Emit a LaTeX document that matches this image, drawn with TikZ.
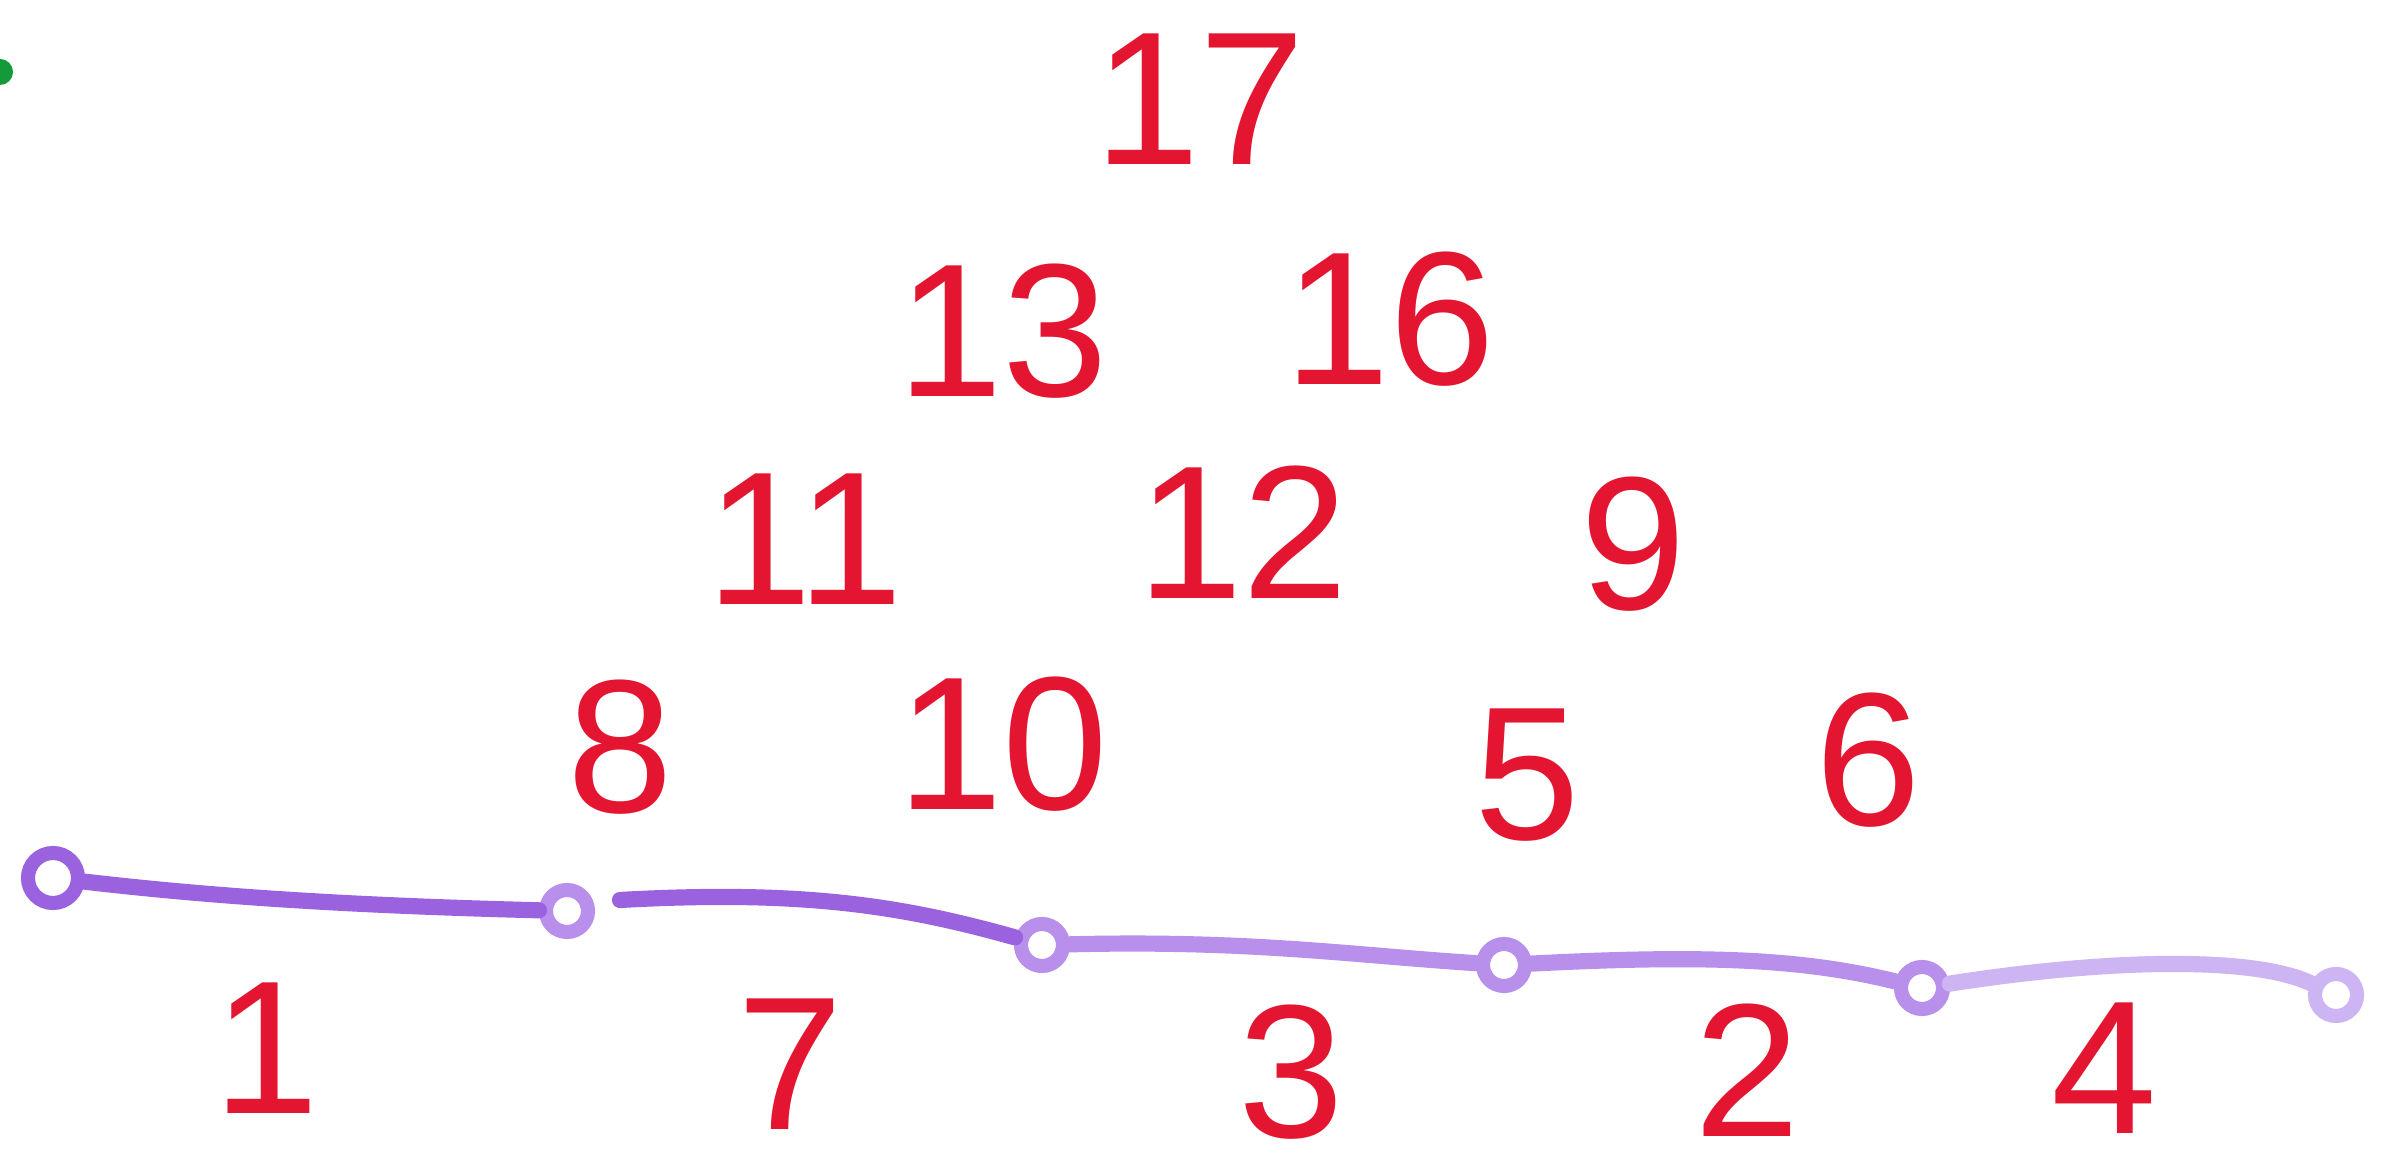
\documentclass[tikz,border=0pt]{standalone}
\usepackage{fontspec}
\setsansfont{Liberation Sans}
\usetikzlibrary{positioning}
\definecolor{inkred}{HTML}{E41530}
\definecolor{lilac}{HTML}{9A62DE}
\definecolor{palelilac}{HTML}{B890EC}
\definecolor{faintlilac}{HTML}{CDB4F2}
\definecolor{markgreen}{HTML}{139A3A}

\begin{document}
\begin{tikzpicture}[x=0.01cm, y=-0.01cm,
    num/.style={text=inkred, font=\sffamily\fontsize{54}{54}\selectfont, inner sep=0pt},
    knot/.style={circle, draw=#1, line width=4pt, minimum size=0.42cm, inner sep=0pt},
    rope/.style={draw=#1, line width=4.6pt, line cap=round}
]
\useasboundingbox[fill=white] (0,0) rectangle (2382,1174);
\fill[markgreen] (0,72) circle (0.13cm);

% numbers above the line
\node[num] (n17) at (1200,99) {17};
\node[num] (n13) at (1003,331) {13};
\node[num] (n16) at (1390,319) {16};
\node[num] (n11) at (805,539) {11};
\node[num] (n12) at (1243,532) {12};
\node[num] (n9) at (1633,544) {9};
\node[num] (n8) at (620,747) {8};
\node[num] (n10) at (1003,744) {10};
\node[num] (n5) at (1527,775) {5};
\node[num] (n6) at (1868,760) {6};

% numbers below the line
\node[num] (n1) at (266,1048) {1};
\node[num] (n7) at (790,1064) {7};
\node[num] (n3) at (1291,1072) {3};
\node[num] (n2) at (1747,1070) {2};
\node[num] (n4) at (2104,1068) {4};

% knots on the line
\node[knot=lilac, minimum size=0.5cm] (k1) at (53,878) {};
\node[knot=palelilac] (k2) at (567,911) {};
\node[knot=palelilac] (k3) at (1042,945) {};
\node[knot=palelilac] (k4) at (1504,965) {};
\node[knot=palelilac] (k5) at (1922,988) {};
\node[knot=faintlilac] (k6) at (2336,995) {};
\coordinate (gap) at (620,900);

\draw[rope=lilac] (k1) .. controls (200,895) and (330,905) .. (k2);
\draw[rope=lilac] (gap) .. controls (800,890) and (900,905) .. (k3);
\draw[rope=palelilac] (k3) .. controls (1250,940) and (1350,955) .. (k4);
\draw[rope=palelilac] (k4) .. controls (1700,955) and (1800,958) .. (k5);
\draw[rope=faintlilac] (k5) .. controls (2100,960) and (2250,955) .. (k6);
\end{tikzpicture}
\end{document}
